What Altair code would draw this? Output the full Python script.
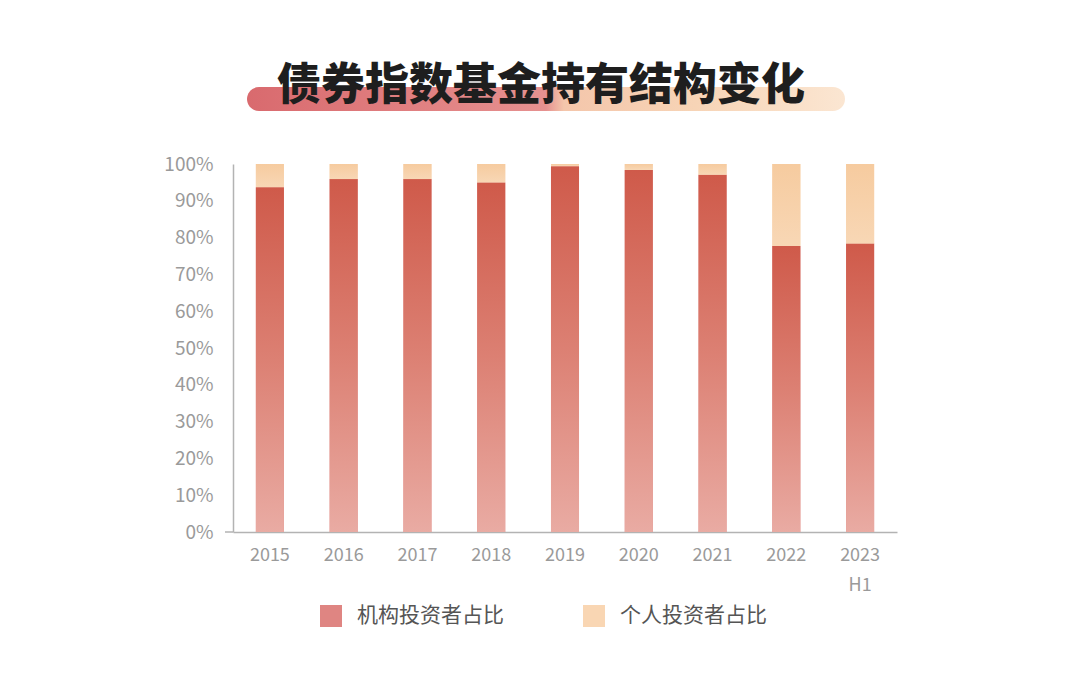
import altair as alt
import pandas as pd

title_text = "债券指数基金持有结构变化"
years = ["2015", "2016", "2017", "2018", "2019", "2020", "2021", "2022", "2023H1"]
inst_share = [93.7, 95.9, 95.9, 95.0, 99.4, 98.4, 97.1, 77.7, 78.4]
indiv_share = [6.3, 4.1, 4.1, 5.0, 0.6, 1.6, 2.9, 22.3, 21.6]
series_names = ["机构投资者占比", "个人投资者占比"]
y_ticks = [0, 10, 20, 30, 40, 50, 60, 70, 80, 90, 100]

FONT = "Noto Sans CJK SC"
W, H = 664, 368

wide = pd.DataFrame({"year": years, "inst": inst_share, "indiv": indiv_share})
wide["top"] = [a + b for a, b in zip(inst_share, indiv_share)]

long_rows = []
for y, a, b in zip(years, inst_share, indiv_share):
    long_rows.append({"year": y, "series": series_names[0], "value": a, "ord": 0})
    long_rows.append({"year": y, "series": series_names[1], "value": b, "ord": 1})
long = pd.DataFrame(long_rows)

x_scale = alt.Scale(paddingInner=0.62, paddingOuter=0.31)
x_axis = alt.Axis(
    title=None,
    labelExpr="datum.value == '2023H1' ? ['2023', 'H1'] : datum.value",
    labelAngle=0,
    labelFont=FONT,
    labelFontSize=18,
    labelColor="#9a9a9a",
    labelPadding=14,
    labelLineHeight=30,
    labelOverlap=False,
    ticks=False,
    domainColor="#b3b3b3",
    domainWidth=1.5,
)
y_scale = alt.Scale(domain=[0, 100], nice=False)
y_axis = alt.Axis(
    title=None,
    values=y_ticks,
    labelExpr="datum.value + '%'",
    labelFont=FONT,
    labelFontSize=19,
    labelColor="#9a9a9a",
    labelPadding=20,
    labelOverlap=False,
    labelFlush=False,
    labelBound=False,
    ticks=False,
    grid=False,
    domainColor="#b3b3b3",
    domainWidth=1.5,
)


def xenc():
    return alt.X("year:N", sort=years, scale=x_scale, axis=x_axis)


inst_grad = alt.Gradient(
    gradient="linear",
    stops=[
        alt.GradientStop(color="#cf5a4a", offset=0),
        alt.GradientStop(color="#dc8073", offset=0.5),
        alt.GradientStop(color="#e9aba3", offset=1),
    ],
    x1=0, x2=0, y1=0, y2=1,
)
indiv_grad = alt.Gradient(
    gradient="linear",
    stops=[
        alt.GradientStop(color="#f6cb9f", offset=0),
        alt.GradientStop(color="#f8d7b5", offset=1),
    ],
    x1=0, x2=0, y1=0, y2=1,
)
pill_grad = alt.Gradient(
    gradient="linear",
    stops=[
        alt.GradientStop(color="#d96a6e", offset=0),
        alt.GradientStop(color="#e69190", offset=0.5),
        alt.GradientStop(color="#f4c6ab", offset=0.53),
        alt.GradientStop(color="#f7d4b6", offset=0.75),
        alt.GradientStop(color="#fbe6d2", offset=1),
    ],
    x1=0, x2=1, y1=0, y2=0,
)

title_df = pd.DataFrame({"t": [title_text]})

pill = alt.Chart(title_df).mark_rect(cornerRadius=12, fill=pill_grad).encode(
    x=alt.value(14), x2=alt.value(612), y=alt.value(-77), y2=alt.value(-53)
)
title = alt.Chart(title_df).mark_text(
    font=FONT, fontSize=44, fontWeight=900, color="#1e1e1e", align="center", baseline="middle"
).encode(text="t:N", x=alt.value(308), y=alt.value(-77))

legend_bars = alt.Chart(long).mark_bar().encode(
    x=xenc(),
    y=alt.Y("value:Q", stack="zero", scale=y_scale, axis=y_axis),
    order=alt.Order("ord:Q"),
    color=alt.Color(
        "series:N",
        sort=series_names,
        scale=alt.Scale(domain=series_names, range=["#df8582", "#f9d6b3"]),
        legend=alt.Legend(
            title=None,
            orient="none",
            legendX=87,
            legendY=441,
            direction="horizontal",
            symbolType="square",
            symbolSize=484,
            symbolStrokeWidth=0,
            labelFont=FONT,
            labelFontSize=21,
            labelColor="#555555",
            labelOffset=15,
            columnPadding=79,
        ),
    ),
)

inst_bars = alt.Chart(wide).mark_bar(fill=inst_grad).encode(
    x=xenc(),
    y=alt.Y("inst:Q", scale=y_scale, axis=y_axis),
    y2=alt.datum(0),
)
indiv_bars = alt.Chart(wide).mark_bar(fill=indiv_grad).encode(
    x=xenc(),
    y=alt.Y("top:Q", scale=y_scale, axis=y_axis),
    y2="inst:Q",
)
ext_rule = alt.Chart(title_df).mark_rule(color="#b3b3b3", strokeWidth=1.5).encode(
    x=alt.value(-8), x2=alt.value(0), y=alt.value(H)
)

chart = (
    alt.layer(pill, title, legend_bars, inst_bars, indiv_bars, ext_rule)
    .properties(
        width=W,
        height=H,
        autosize="none",
        padding={"left": 225, "top": 156, "right": 175, "bottom": 134},
        background="white",
    )
    .configure_view(strokeWidth=0)
)

chart.save("out.html", embed_options={"renderer": "svg", "actions": False})
